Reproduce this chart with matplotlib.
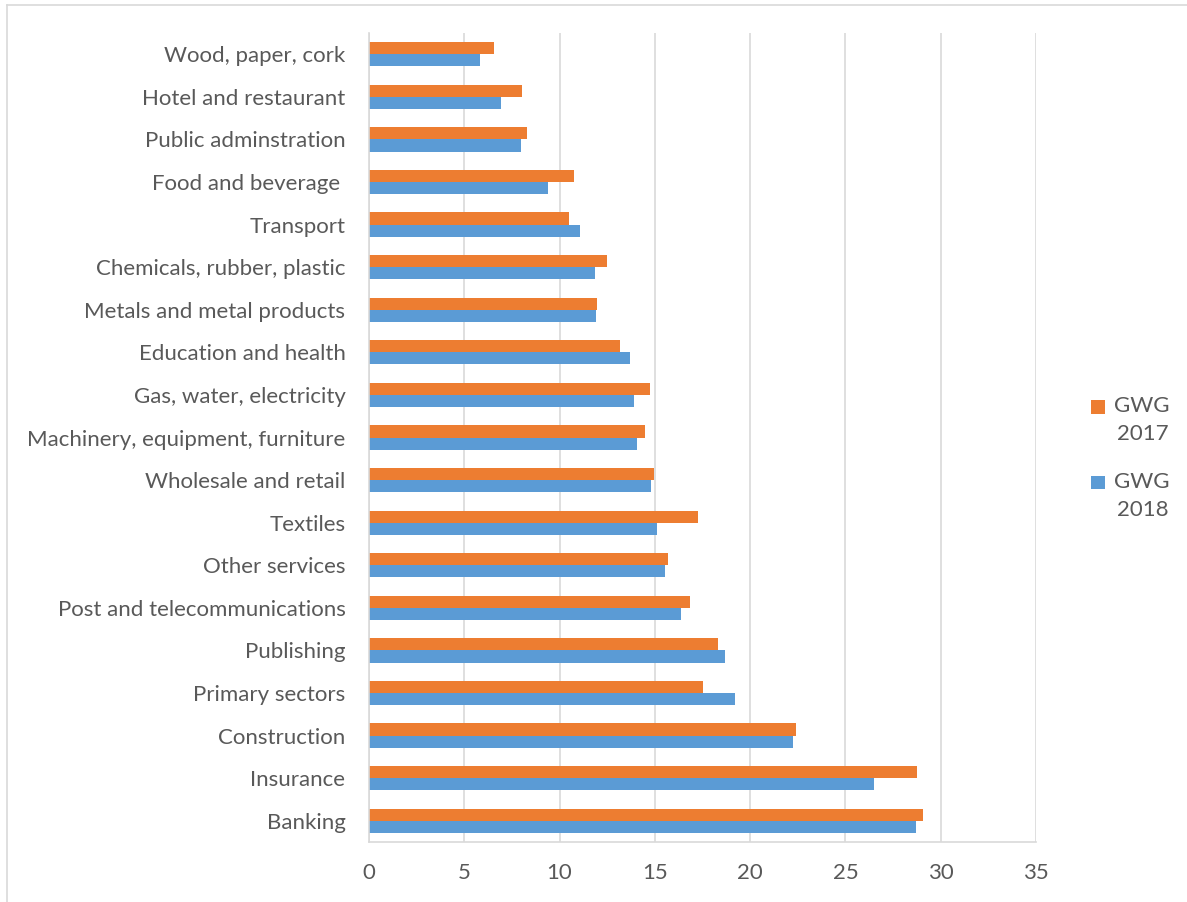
import matplotlib.pyplot as plt
import matplotlib.lines as mlines
from matplotlib.patches import Rectangle
from matplotlib.legend_handler import HandlerPatch
import numpy as np

categories = ['Wood, paper, cork', 'Hotel and restaurant', 'Public adminstration',
              'Food and beverage ', 'Transport', 'Chemicals, rubber, plastic',
              'Metals and metal products', 'Education and health',
              'Gas, water, electricity', 'Machinery, equipment, furniture',
              'Wholesale and retail', 'Textiles', 'Other services',
              'Post and telecommunications', 'Publishing', 'Primary sectors',
              'Construction', 'Insurance', 'Banking']

gwg_2017 = [6.55, 8.02, 8.27, 10.75, 10.47, 12.48, 11.99, 13.15, 14.74, 14.46,
            14.97, 17.25, 15.68, 16.83, 18.32, 17.52, 22.43, 28.74, 29.07]
gwg_2018 = [5.80, 6.94, 7.97, 9.37, 11.05, 11.85, 11.90, 13.72, 13.88, 14.07,
            14.79, 15.12, 15.54, 16.36, 18.69, 19.21, 22.24, 26.52, 28.69]

xticks = [0, 5, 10, 15, 20, 25, 30, 35]

plt.rcParams['font.family'] = ['Lato', 'DejaVu Sans']
text_color = '#595959'
orange = '#ED7D31'
blue = '#5B9BD5'
fs = 16


def top_square(legend, orig_handle, xdescent, ydescent, width, height, fontsize):
    # small square at the top of the handle box, next to the first text line
    sq = 0.62 * fontsize
    return Rectangle((-xdescent + width - sq, -ydescent + height - sq * 0.9), sq, sq)


fig = plt.figure(figsize=(11.87, 9.02), dpi=100)
ax = fig.add_axes([369 / 1187, 1 - 842 / 902, (1036 - 369) / 1187, (842 - 33) / 902])

y = np.arange(len(categories))
h = 0.285
bars17 = ax.barh(y - h / 2, gwg_2017, height=h, color=orange)
bars18 = ax.barh(y + h / 2, gwg_2018, height=h, color=blue)

ax.set_ylim(len(categories) - 0.5, -0.5)
ax.set_xlim(0, 35)
ax.set_xticks(xticks)
ax.set_yticks(y)
ax.set_yticklabels(categories)
ax.tick_params(axis='both', length=0, labelsize=fs, colors=text_color)
ax.tick_params(axis='x', pad=15)
ax.tick_params(axis='y', pad=17)

ax.grid(axis='x', color='#D9D9D9', linewidth=1.2)
ax.set_axisbelow(True)
for side in ['top', 'right']:
    ax.spines[side].set_visible(False)
ax.spines['left'].set_color('#D9D9D9')
ax.spines['bottom'].set_color('#D9D9D9')
ax.spines['left'].set_linewidth(1.2)
ax.spines['bottom'].set_linewidth(1.2)

leg = fig.legend([bars17[0], bars18[0]], ['GWG\n2017', 'GWG\n2018'], loc='upper left',
                 bbox_to_anchor=(1068 / 1187, 1 - 376 / 902),
                 frameon=False, fontsize=fs, labelcolor=text_color,
                 handlelength=0.75, handleheight=2.4, handletextpad=0.4,
                 labelspacing=1.25,
                 handler_map={Rectangle: HandlerPatch(patch_func=top_square)})
for t in leg.get_texts():
    t.set_multialignment('right')
    t.set_linespacing(1.5)

# chart area border (left and top edges)
fig.add_artist(mlines.Line2D([7 / 1187, 7 / 1187], [0, 1 - 5 / 902],
                             transform=fig.transFigure, color='#D9D9D9', linewidth=1.2))
fig.add_artist(mlines.Line2D([7 / 1187, 1], [1 - 5 / 902, 1 - 5 / 902],
                             transform=fig.transFigure, color='#D9D9D9', linewidth=1.2))

fig.savefig('out.png', dpi=100)
